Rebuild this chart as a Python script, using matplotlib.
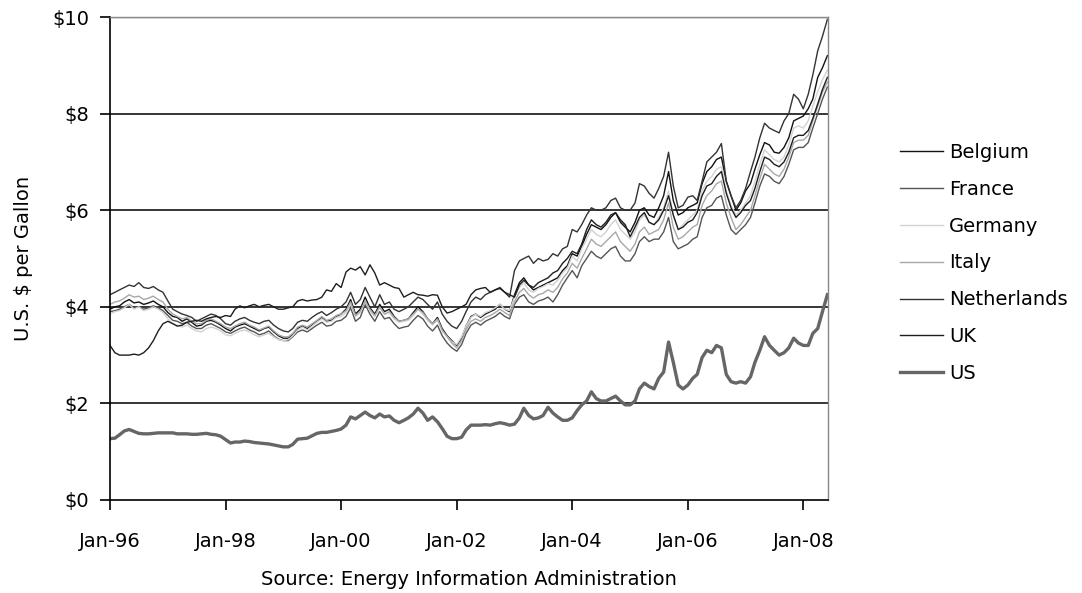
import matplotlib
matplotlib.use("Agg")
import matplotlib.pyplot as plt
import matplotlib.dates as mdates
import pandas as pd

# monthly readings, Jan 1996 .. Jun 2008 (US $ per gallon)
belgium = [
    3.95, 4.00, 4.02, 4.10, 4.15, 4.08, 4.10, 4.05, 4.08, 4.12, 4.05, 4.00,
    3.88, 3.80, 3.78, 3.70, 3.75, 3.68, 3.60, 3.62, 3.70, 3.72, 3.68, 3.62,
    3.55, 3.50, 3.58, 3.62, 3.65, 3.60, 3.55, 3.50, 3.55, 3.58, 3.48, 3.40,
    3.35, 3.35, 3.42, 3.55, 3.60, 3.55, 3.62, 3.70, 3.78, 3.70, 3.72, 3.80,
    3.85, 3.95, 4.15, 3.85, 3.95, 4.20, 3.98, 3.85, 4.05, 3.90, 3.95, 3.80,
    3.70, 3.72, 3.75, 3.88, 4.00, 3.90, 3.75, 3.65, 3.78, 3.55, 3.40, 3.30,
    3.20, 3.35, 3.60, 3.80, 3.85, 3.78, 3.85, 3.90, 3.95, 4.05, 3.95, 3.90,
    4.25, 4.50, 4.60, 4.45, 4.35, 4.40, 4.45, 4.50, 4.55, 4.60, 4.75, 4.85,
    5.10, 5.05, 5.25, 5.50, 5.70, 5.65, 5.60, 5.70, 5.85, 5.95, 5.75, 5.65,
    5.55, 5.75, 6.00, 6.05, 5.90, 5.85, 6.05, 6.30, 6.80, 6.20, 5.90, 5.95,
    6.05, 6.10, 6.15, 6.55, 6.80, 6.90, 7.05, 7.10, 6.60, 6.30, 6.00, 6.15,
    6.40, 6.55, 6.85, 7.15, 7.40, 7.35, 7.20, 7.18, 7.30, 7.50, 7.85, 7.90,
    7.95, 8.10, 8.30, 8.75, 8.95, 9.20,
]
france = [
    3.90, 3.92, 3.95, 4.00, 4.05, 3.98, 4.00, 3.95, 3.98, 4.02, 3.98, 3.92,
    3.82, 3.72, 3.70, 3.65, 3.68, 3.60, 3.55, 3.55, 3.62, 3.65, 3.60, 3.55,
    3.48, 3.45, 3.50, 3.55, 3.58, 3.52, 3.48, 3.42, 3.45, 3.50, 3.40, 3.33,
    3.30, 3.30, 3.38, 3.48, 3.52, 3.48, 3.55, 3.62, 3.68, 3.60, 3.62, 3.70,
    3.72, 3.80, 3.98, 3.70, 3.78, 4.05, 3.85, 3.70, 3.90, 3.75, 3.78, 3.65,
    3.55, 3.58, 3.60, 3.72, 3.82, 3.75, 3.60, 3.50, 3.62, 3.40, 3.25, 3.15,
    3.08, 3.22, 3.45, 3.62, 3.68, 3.62, 3.70, 3.75, 3.80, 3.88, 3.80, 3.75,
    4.05, 4.20, 4.25, 4.10, 4.05, 4.12, 4.15, 4.20, 4.10, 4.25, 4.45, 4.60,
    4.75, 4.60, 4.85, 5.00, 5.15, 5.05, 5.00, 5.10, 5.20, 5.25, 5.05, 4.95,
    4.95, 5.10, 5.35, 5.45, 5.35, 5.40, 5.40, 5.55, 5.85, 5.35, 5.20, 5.25,
    5.30, 5.40, 5.45, 5.85, 6.05, 6.10, 6.25, 6.30, 5.90, 5.60, 5.50, 5.60,
    5.70, 5.85, 6.15, 6.50, 6.75, 6.70, 6.60, 6.55, 6.70, 6.95, 7.25, 7.30,
    7.30, 7.40, 7.70, 8.00, 8.30, 8.55,
]
germany = [
    3.85, 3.90, 3.92, 3.98, 4.05, 3.95, 4.00, 3.92, 3.95, 4.00, 3.95, 3.88,
    3.75, 3.65, 3.62, 3.58, 3.62, 3.55, 3.50, 3.48, 3.55, 3.58, 3.55, 3.50,
    3.42, 3.40, 3.45, 3.50, 3.52, 3.48, 3.42, 3.38, 3.42, 3.45, 3.38, 3.32,
    3.30, 3.32, 3.40, 3.52, 3.58, 3.52, 3.60, 3.68, 3.75, 3.68, 3.70, 3.78,
    3.80, 3.88, 4.05, 3.80, 3.88, 4.10, 3.92, 3.80, 3.98, 3.85, 3.88, 3.75,
    3.68, 3.70, 3.72, 3.82, 3.95, 3.85, 3.72, 3.62, 3.72, 3.50, 3.38, 3.28,
    3.22, 3.38, 3.60, 3.78, 3.85, 3.80, 3.88, 3.92, 3.98, 4.05, 3.95, 3.92,
    4.20, 4.40, 4.50, 4.35, 4.30, 4.38, 4.42, 4.48, 4.45, 4.55, 4.70, 4.80,
    5.05, 4.95, 5.20, 5.40, 5.60, 5.50, 5.45, 5.55, 5.70, 5.80, 5.60, 5.50,
    5.40, 5.55, 5.80, 5.90, 5.75, 5.70, 5.85, 6.05, 6.40, 5.90, 5.60, 5.70,
    5.80, 5.90, 6.00, 6.40, 6.60, 6.70, 6.85, 6.90, 6.40, 6.10, 5.90, 6.00,
    6.15, 6.30, 6.60, 6.95, 7.25, 7.15, 7.05, 7.00, 7.10, 7.35, 7.70, 7.75,
    7.70, 7.85, 8.15, 8.45, 8.70, 8.90,
]
italy = [
    4.05, 4.10, 4.12, 4.18, 4.25, 4.20, 4.22, 4.15, 4.18, 4.22, 4.15, 4.10,
    3.95, 3.85, 3.80, 3.75, 3.78, 3.70, 3.65, 3.65, 3.72, 3.75, 3.70, 3.65,
    3.58, 3.55, 3.60, 3.65, 3.68, 3.62, 3.58, 3.52, 3.56, 3.60, 3.50, 3.42,
    3.38, 3.38, 3.45, 3.58, 3.62, 3.58, 3.65, 3.72, 3.80, 3.72, 3.75, 3.82,
    3.85, 3.92, 4.10, 3.82, 3.90, 4.12, 3.95, 3.82, 4.00, 3.85, 3.90, 3.78,
    3.70, 3.72, 3.75, 3.85, 3.95, 3.88, 3.75, 3.65, 3.75, 3.52, 3.38, 3.25,
    3.15, 3.30, 3.52, 3.70, 3.75, 3.70, 3.78, 3.82, 3.88, 3.95, 3.88, 3.82,
    4.10, 4.30, 4.38, 4.25, 4.18, 4.25, 4.28, 4.35, 4.30, 4.40, 4.58, 4.70,
    4.90, 4.80, 5.00, 5.20, 5.40, 5.30, 5.25, 5.35, 5.45, 5.55, 5.35, 5.25,
    5.15, 5.30, 5.55, 5.65, 5.50, 5.55, 5.60, 5.80, 6.15, 5.65, 5.40, 5.45,
    5.55, 5.65, 5.70, 6.10, 6.30, 6.40, 6.55, 6.60, 6.15, 5.85, 5.60, 5.70,
    5.85, 6.00, 6.30, 6.65, 6.95, 6.85, 6.75, 6.70, 6.85, 7.10, 7.40, 7.45,
    7.45, 7.55, 7.85, 8.15, 8.45, 8.65,
]
netherlands = [
    4.25, 4.30, 4.35, 4.40, 4.45, 4.42, 4.50, 4.40, 4.38, 4.42, 4.35, 4.30,
    4.12, 3.95, 3.90, 3.85, 3.82, 3.78, 3.70, 3.75, 3.80, 3.85, 3.82, 3.75,
    3.65, 3.62, 3.70, 3.75, 3.78, 3.72, 3.68, 3.65, 3.70, 3.72, 3.62, 3.55,
    3.50, 3.48, 3.55, 3.68, 3.72, 3.70, 3.78, 3.85, 3.90, 3.82, 3.88, 3.95,
    4.00, 4.10, 4.30, 4.05, 4.15, 4.40, 4.20, 4.00, 4.25, 4.05, 4.10, 3.95,
    3.90, 3.95, 4.00, 4.10, 4.20, 4.15, 4.05, 3.95, 4.10, 3.85, 3.70, 3.60,
    3.55, 3.70, 3.90, 4.10, 4.20, 4.15, 4.25, 4.30, 4.35, 4.40, 4.30, 4.20,
    4.75, 4.95, 5.00, 5.05, 4.90, 5.00, 4.95, 4.98, 5.10, 5.05, 5.20, 5.25,
    5.60, 5.55, 5.70, 5.90, 6.05, 6.00, 6.00, 6.05, 6.20, 6.25, 6.05, 6.00,
    6.00, 6.15, 6.55, 6.50, 6.35, 6.25, 6.45, 6.70, 7.20, 6.50, 6.05, 6.10,
    6.27, 6.30, 6.20, 6.60, 7.00, 7.10, 7.20, 7.38, 6.60, 6.30, 6.05, 6.20,
    6.45, 6.80, 7.10, 7.50, 7.80, 7.70, 7.65, 7.60, 7.85, 8.00, 8.40, 8.30,
    8.10, 8.40, 8.80, 9.30, 9.60, 9.95,
]
uk = [
    3.20, 3.05, 3.00, 3.00, 3.00, 3.02, 3.00, 3.05, 3.15, 3.30, 3.50, 3.65,
    3.70, 3.65, 3.60, 3.62, 3.68, 3.70, 3.72, 3.70, 3.75, 3.78, 3.80, 3.78,
    3.82, 3.80, 3.95, 4.02, 3.98, 4.02, 4.05, 4.00, 4.03, 4.05, 4.00, 3.95,
    3.95, 3.98, 4.00, 4.12, 4.15, 4.12, 4.14, 4.15, 4.20, 4.35, 4.32, 4.48,
    4.40, 4.72, 4.80, 4.76, 4.83, 4.66, 4.87, 4.70, 4.45, 4.50, 4.45, 4.40,
    4.38, 4.20, 4.25, 4.30, 4.25, 4.24, 4.22, 4.25, 4.24, 4.00, 3.87, 3.90,
    3.95, 4.00, 4.05, 4.25, 4.35, 4.38, 4.40, 4.30, 4.35, 4.38, 4.30, 4.25,
    4.20, 4.45, 4.55, 4.45, 4.40, 4.50, 4.55, 4.60, 4.70, 4.75, 4.90, 5.00,
    5.15, 5.10, 5.30, 5.60, 5.80, 5.70, 5.65, 5.75, 5.90, 5.95, 5.80, 5.70,
    5.45, 5.65, 5.85, 5.95, 5.75, 5.70, 5.80, 6.00, 6.30, 5.90, 5.60, 5.65,
    5.75, 5.80, 5.95, 6.30, 6.50, 6.55, 6.70, 6.80, 6.35, 6.05, 5.85, 5.95,
    6.10, 6.20, 6.45, 6.80, 7.10, 7.05, 6.95, 6.90, 7.00, 7.20, 7.50, 7.55,
    7.55, 7.65, 7.90, 8.20, 8.50, 8.75,
]
us = [
    1.27, 1.28, 1.35, 1.43, 1.46, 1.42, 1.38, 1.37, 1.37, 1.38, 1.39, 1.39,
    1.39, 1.39, 1.37, 1.37, 1.37, 1.36, 1.36, 1.37, 1.38, 1.36, 1.35, 1.32,
    1.25, 1.18, 1.20, 1.20, 1.22, 1.21, 1.19, 1.18, 1.17, 1.16, 1.14, 1.12,
    1.10, 1.10, 1.15, 1.26, 1.27, 1.28, 1.33, 1.38, 1.40, 1.40, 1.42, 1.44,
    1.47, 1.55, 1.72, 1.68, 1.75, 1.82, 1.75, 1.70, 1.78, 1.72, 1.74, 1.65,
    1.60, 1.65, 1.70, 1.78, 1.90, 1.80, 1.65, 1.72, 1.62, 1.48, 1.32, 1.27,
    1.27, 1.30, 1.45, 1.55, 1.55, 1.55, 1.56, 1.55, 1.58, 1.60, 1.58, 1.55,
    1.57, 1.70, 1.90, 1.75, 1.68, 1.70, 1.75, 1.92, 1.80, 1.72, 1.65, 1.65,
    1.70, 1.85, 1.97, 2.05, 2.24, 2.10, 2.05, 2.05, 2.10, 2.15, 2.05, 1.97,
    1.97, 2.05, 2.30, 2.42, 2.35, 2.30, 2.52, 2.65, 3.27, 2.85, 2.38, 2.30,
    2.38, 2.52, 2.60, 2.95, 3.10, 3.05, 3.20, 3.15, 2.60, 2.45, 2.42, 2.45,
    2.42, 2.55, 2.85, 3.10, 3.38, 3.20, 3.10, 3.00, 3.05, 3.15, 3.35, 3.25,
    3.20, 3.20, 3.45, 3.55, 3.90, 4.25,
]

series = ["Belgium", "France", "Germany", "Italy", "Netherlands", "UK", "US"]
values = [belgium, france, germany, italy, netherlands, uk, us]
colors = ["#111111", "#555555", "#d2d2d2", "#a8a8a8", "#333333", "#1e1e1e", "#666666"]
widths = [1.0, 1.0, 1.0, 1.0, 1.0, 1.0, 2.4]

dates = pd.date_range("1996-01-01", periods=len(us), freq="MS")

plt.rcParams["font.family"] = "DejaVu Sans"
fig = plt.figure(figsize=(10.82, 5.93), dpi=100)
ax = fig.add_axes([110 / 1082, 93 / 593, 718 / 1082, 483 / 593])

for name, vals, c, lw in zip(series, values, colors, widths):
    ax.plot(dates, vals, color=c, lw=lw, label=name)

ax.set_ylim(0, 10)
ax.set_xlim(pd.Timestamp("1996-01-01"), pd.Timestamp("2008-06-05"))
ax.set_yticks(range(0, 11, 2))
ax.set_yticklabels(["$%d" % v for v in range(0, 11, 2)])
for v in range(2, 10, 2):
    ax.axhline(v, color="black", lw=1.1, zorder=0)
ax.axhline(10, color="#888888", lw=1.0, zorder=0)

ax.xaxis.set_major_locator(mdates.YearLocator(2))
ax.xaxis.set_major_formatter(mdates.DateFormatter("Jan-%y"))

for s in ["top", "right"]:
    ax.spines[s].set_color("#888888")
    ax.spines[s].set_linewidth(1.0)
for s in ["left", "bottom"]:
    ax.spines[s].set_linewidth(1.2)
ax.tick_params(axis="both", length=7, width=1.2, labelsize=14, colors="black")
ax.tick_params(axis="x", pad=16)
ax.tick_params(axis="y", pad=8)

ax.set_ylabel("U.S. $ per Gallon", fontsize=14, labelpad=14)
ax.set_xlabel("Source: Energy Information Administration", fontsize=14, labelpad=14)

fig.legend(loc="center left", bbox_to_anchor=(890 / 1082, 1 - 263 / 593),
           frameon=False, fontsize=14, handlelength=2.2, handletextpad=0.35,
           labelspacing=0.92, borderpad=0)

fig.savefig("out.png", dpi=100, facecolor="white")
